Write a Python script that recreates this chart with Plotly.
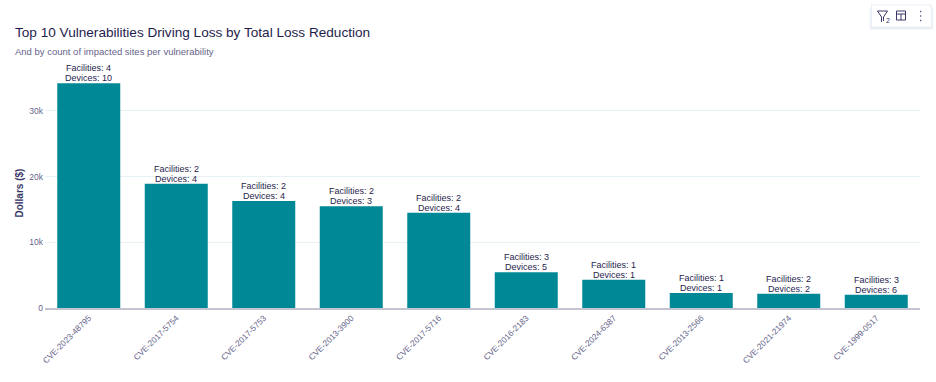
import plotly.graph_objects as go

cves = ["CVE-2023-48795", "CVE-2017-5754", "CVE-2017-5753", "CVE-2013-3900", "CVE-2017-5716",
        "CVE-2016-2183", "CVE-2024-6387", "CVE-2013-2566", "CVE-2021-21974", "CVE-1999-0517"]
loss = [34200, 18900, 16300, 15500, 14500, 5450, 4300, 2300, 2150, 2000]
facilities = [4, 2, 2, 2, 2, 3, 1, 1, 2, 3]
devices = [10, 4, 4, 3, 4, 5, 1, 1, 2, 6]
tick_vals = [0, 10000, 20000, 30000]
tick_text = ["0", "10k", "20k", "30k"]

W, H = 936, 382
L, R, T, B = 45, 920.5, 50, 308
FONT = "Liberation Sans"
INK = "#1f1d4d"
MUTED = "#66648a"


def px(x):
    return (x - L) / (R - L)


def py(y):
    return (B - y) / (B - T)


fig = go.Figure(go.Bar(
    x=cves, y=loss, marker=dict(color="#018896", line=dict(width=0)), hoverinfo="x+y",
))

shapes = []


def add(kind, x0, y0, x1, y1, **kw):
    shapes.append(dict(type=kind, xref="paper", yref="paper", x0=px(x0), x1=px(x1),
                       y0=py(y0), y1=py(y1), layer="above", **kw))


# toolbar chrome
for off, col in ((3, "#f4f5f8"), (2, "#eef0f4"), (1, "#e9ecf1")):
    add("rect", 872 - off + 1, 6 + off, 932 + off - 1, 27 + off, fillcolor=col, line=dict(width=0))
add("rect", 872, 5, 932, 27, fillcolor="#ffffff", line=dict(color="#e8eff6", width=1))
icon = dict(color="#3a3868", width=1)
# funnel
add("line", 878, 11, 888, 11, line=icon)
add("line", 878, 11, 882, 17, line=icon)
add("line", 888, 11, 884, 17, line=icon)
add("line", 882, 17, 882, 22, line=icon)
add("line", 884, 17, 884, 21, line=icon)
# table
add("rect", 897, 11, 906, 20, line=icon)
add("line", 897, 14, 906, 14, line=icon)
add("line", 901.5, 14, 901.5, 20, line=icon)
# kebab dots
for cy in (11.5, 16, 20.5):
    add("rect", 920.5, cy - 0.7, 921.8, cy + 0.7, fillcolor="#5c5a80", line=dict(width=0))

annotations = [
    dict(text="Top 10 Vulnerabilities Driving Loss by Total Loss Reduction", xref="paper", yref="paper",
         x=px(13), y=py(32), xanchor="left", yanchor="middle", showarrow=False,
         font=dict(family=FONT, size=13.6, color=INK)),
    dict(text="And by count of impacted sites per vulnerability", xref="paper", yref="paper",
         x=px(13), y=py(51), xanchor="left", yanchor="middle", showarrow=False,
         font=dict(family=FONT, size=9.5, color=MUTED)),
    dict(text="2", xref="paper", yref="paper", x=px(888.5), y=py(20), xanchor="center", yanchor="middle",
         showarrow=False, font=dict(family=FONT, size=7, color="#3a3868")),
    dict(text="<b>Dollars ($)</b>", xref="paper", yref="paper", x=px(18.5), y=py(193), xanchor="center",
         yanchor="middle", textangle=-90, showarrow=False, font=dict(family=FONT, size=10, color="#3a3868")),
]
for c, v, f, d in zip(cves, loss, facilities, devices):
    annotations.append(dict(x=c, y=v, xref="x", yref="y", text=f"Facilities: {f}", showarrow=False,
                            yanchor="bottom", yshift=9, borderpad=0, font=dict(family=FONT, size=9, color=INK)))
    annotations.append(dict(x=c, y=v, xref="x", yref="y", text=f"Devices: {d}", showarrow=False,
                            yanchor="bottom", yshift=-1, borderpad=0, font=dict(family=FONT, size=9, color=INK)))

fig.update_layout(
    width=W, height=H, autosize=False,
    paper_bgcolor="white", plot_bgcolor="white",
    margin=dict(l=L, r=W - R, t=T, b=H - B, autoexpand=False),
    bargap=0.28, showlegend=False,
    font=dict(family=FONT, color=INK),
    shapes=shapes,
    annotations=annotations,
    xaxis=dict(type="category", tickangle=-45, showgrid=False, ticks="", automargin=False,
               showline=True, linecolor="#c4c3d0", linewidth=2,
               tickfont=dict(family=FONT, size=8.3, color=MUTED)),
    yaxis=dict(range=[0, 39270], tickvals=tick_vals, ticktext=tick_text, automargin=False,
               gridcolor="#e8f1f6", gridwidth=1, zeroline=False, ticks="", ticklabelstandoff=1,
               tickfont=dict(family=FONT, size=8.5, color=MUTED)),
)
fig.write_html("out.html", config={"displayModeBar": False},
               post_script="document.body.style.margin='0';document.body.style.overflow='hidden';")
